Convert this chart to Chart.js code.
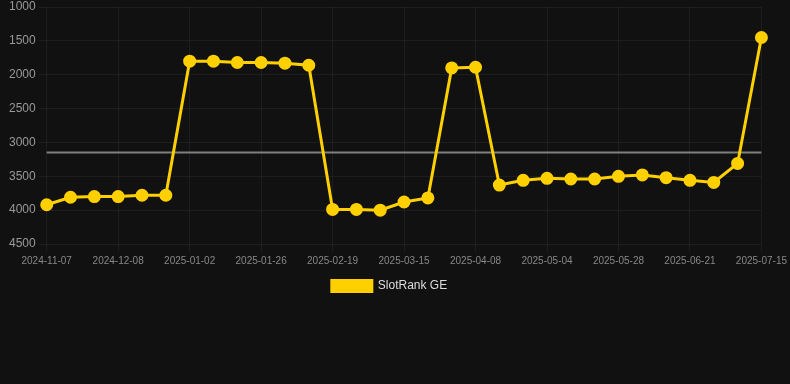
<!DOCTYPE html>
<html>
<head>
<meta charset="utf-8">
<script src="https://cdn.jsdelivr.net/npm/chart.js@4"></script>
<style>
  html, body { margin: 0; padding: 0; background: #111111; overflow: hidden; }
  #wrap { position: relative; width: 790px; height: 304px; margin-top: -2px; }
</style>
</head>
<body>
<div id="wrap"><canvas id="rankChart"></canvas></div>
<script>
// ── 数据 ──
var dates = [
  '2024-11-07', '2024-11-17', '2024-11-28', '2024-12-08', '2024-12-16', '2024-12-24',
  '2025-01-02', '2025-01-10', '2025-01-18', '2025-01-26', '2025-02-03', '2025-02-11',
  '2025-02-19', '2025-02-27', '2025-03-07', '2025-03-15', '2025-03-23', '2025-03-31',
  '2025-04-08', '2025-04-16', '2025-04-26', '2025-05-04', '2025-05-12', '2025-05-20',
  '2025-05-28', '2025-06-05', '2025-06-13', '2025-06-21', '2025-06-29', '2025-07-07',
  '2025-07-15'
];
var rankGE = [
  3920, 3810, 3800, 3800, 3780, 3780,
  1800, 1800, 1820, 1820, 1830, 1860,
  3990, 3990, 4000, 3880, 3820, 1900,
  1890, 3630, 3560, 3530, 3540, 3540,
  3500, 3480, 3520, 3560, 3590, 3310,
  1450
];
var avgRank = 3150;
var yTicks = [1000, 1500, 2000, 2500, 3000, 3500, 4000, 4500];

var avgLine = dates.map(function() { return avgRank; });
var gridCol = 'rgba(255,255,255,0.05)';

var ctx = document.getElementById('rankChart').getContext('2d');
var rankChart = new Chart(ctx, {
  type: 'line',
  data: {
    labels: dates,
    datasets: [{
      label: 'SlotRank GE',
      data: rankGE,
      borderColor: '#ffd000',
      backgroundColor: '#ffd000',
      borderWidth: 3,
      pointRadius: 5,
      pointHoverRadius: 6,
      tension: 0
    }, {
      label: 'avg',
      data: avgLine,
      borderColor: '#808080',
      borderWidth: 2,
      pointRadius: 0,
      tension: 0
    }]
  },
  options: {
    responsive: true, maintainAspectRatio: false,
    animation: false,
    layout: { padding: { left: 6, right: 17, top: 0, bottom: 0 } },
    plugins: {
      legend: {
        position: 'bottom',
        labels: {
          color: '#dddddd',
          font: { size: 12 },
          boxWidth: 40, boxHeight: 11,
          filter: function(item) { return item.datasetIndex === 0; }
        }
      },
      tooltip: { enabled: false }
    },
    scales: {
      x: {
        ticks: { color: '#888888', font: { size: 10 }, maxRotation: 0, autoSkip: false,
          callback: function(v, i) { return i % 3 === 0 ? dates[i] : ''; } },
        grid: { color: function(c) { return c.index % 3 === 0 ? gridCol : 'rgba(0,0,0,0)'; } },
        border: { display: false }
      },
      y: {
        reverse: true, min: 1000, max: 4500,
        afterBuildTicks: function(axis) {
          axis.ticks = yTicks.map(function(v) { return { value: v }; });
        },
        ticks: { color: '#999999', font: { size: 12, lineHeight: 1 },
          callback: function(v) { return String(v); } },
        grid: { color: gridCol },
        border: { display: false }
      }
    }
  }
});
</script>
</body>
</html>
